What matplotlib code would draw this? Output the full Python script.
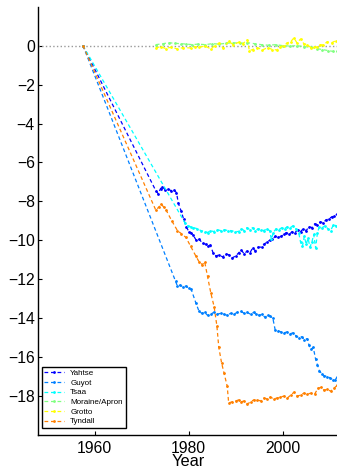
import matplotlib
matplotlib.use("Agg")
import matplotlib.pyplot as plt

plt.rcParams['font.family'] = ['Liberation Sans', 'DejaVu Sans']

# cumulative thickness change per glacier (m w.e.), start year 1957.5
yahtse_yr = [1957.5, 1973.0, 1973.5, 1974.0, 1974.4, 1975.0, 1975.6, 1976.2, 1976.8, 1977.4,
             1977.8, 1978.4, 1978.9, 1979.5, 1980.0, 1980.5, 1981.0, 1981.6, 1982.2, 1983.0,
             1983.6, 1984.0, 1984.6, 1985.2, 1985.8, 1986.5, 1987.2, 1988.0, 1988.6, 1989.3,
             1990.0, 1990.6, 1991.2, 1991.8, 1992.4, 1993.0, 1993.6, 1994.2, 1994.8, 1995.5,
             1996.0, 1996.6, 1997.2, 1997.8, 1998.4, 1999.0, 1999.6, 2000.2, 2000.8, 2001.4,
             2002.0, 2002.6, 2003.2, 2003.8, 2004.4, 2005.0, 2005.6, 2006.2, 2006.8, 2007.4,
             2008.0, 2008.6, 2009.2, 2009.8, 2010.4, 2011.0, 2011.6]
yahtse = [0, -7.45, -7.6, -7.35, -7.25, -7.4, -7.35, -7.45, -7.4, -7.55,
          -8.1, -8.5, -8.9, -9.3, -9.55, -9.6, -9.75, -10.0, -9.95, -10.15,
          -10.2, -10.3, -10.25, -10.65, -10.8, -10.75, -10.85, -10.7, -10.75, -10.9,
          -10.8, -10.65, -10.5, -10.7, -10.55, -10.65, -10.4, -10.55, -10.35, -10.35,
          -10.2, -10.1, -10.0, -9.95, -9.8, -9.85, -9.8, -9.7, -9.6, -9.7,
          -9.55, -9.6, -9.45, -9.55, -9.4, -9.5, -9.3, -9.35, -9.15, -9.2,
          -9.05, -9.1, -8.95, -8.9, -8.8, -8.75, -8.65]

guyot_yr = [1957.5, 1977.2, 1977.6, 1978.2, 1978.8, 1979.4, 1980.0, 1980.5, 1981.5, 1982.2,
            1982.8, 1983.4, 1984.0, 1984.7, 1985.3, 1986.0, 1986.8, 1987.5, 1988.2, 1988.9,
            1989.6, 1990.3, 1991.1, 1991.8, 1992.4, 1993.2, 1993.8, 1994.4, 1995.0, 1995.6,
            1996.2, 1996.8, 1997.4, 1997.9, 1998.4, 1999.0, 1999.6, 2000.3, 2001.0, 2001.6,
            2002.2, 2002.8, 2003.4, 2004.0, 2004.6, 2005.2, 2005.6, 2006.0, 2006.5, 2007.0,
            2007.4, 2007.8, 2008.3, 2008.8, 2009.4, 2010.0, 2010.6, 2011.1, 2011.6]
guyot = [0, -12.1, -12.35, -12.3, -12.4, -12.35, -12.45, -12.5, -13.2, -13.65,
         -13.75, -13.7, -13.85, -13.8, -13.7, -13.8, -13.75, -13.8, -13.85, -13.75,
         -13.8, -13.7, -13.65, -13.75, -13.7, -13.8, -13.7, -13.8, -13.85, -13.8,
         -13.95, -13.85, -13.9, -14.0, -14.6, -14.65, -14.7, -14.75, -14.7, -14.8,
         -14.75, -14.9, -15.0, -14.95, -15.1, -15.05, -15.4, -15.6, -15.5, -16.1,
         -16.4, -16.7, -16.85, -16.95, -17.0, -17.05, -17.15, -17.2, -17.0]

tsaa_yr = [1957.5, 1979.2, 1979.8, 1980.4, 1981.0, 1981.8, 1982.6, 1983.4, 1984.0, 1984.6,
           1985.3, 1986.0, 1986.8, 1987.6, 1988.3, 1989.0, 1989.8, 1990.6, 1991.2, 1991.8,
           1992.4, 1993.0, 1993.6, 1994.2, 1994.8, 1995.4, 1996.0, 1996.6, 1997.2, 1997.6,
           1998.0, 1998.6, 1999.2, 1999.8, 2000.4, 2001.0, 2001.6, 2002.2, 2002.8, 2003.4,
           2003.8, 2004.2, 2004.6, 2005.0, 2005.4, 2005.8, 2006.2, 2006.6, 2007.0, 2007.4,
           2007.8, 2008.4, 2009.0, 2009.6, 2010.2, 2010.8, 2011.4]
tsaa = [0, -9.1, -9.25, -9.3, -9.35, -9.4, -9.5, -9.55, -9.6, -9.5,
        -9.55, -9.45, -9.5, -9.45, -9.5, -9.5, -9.55, -9.55, -9.4, -9.5,
        -9.35, -9.45, -9.35, -9.5, -9.4, -9.45, -9.5, -9.4, -9.5, -9.95,
        -9.6, -9.4, -9.45, -9.35, -9.4, -9.3, -9.35, -9.25, -9.4, -9.6,
        -10.1, -10.3, -9.8, -10.2, -9.9, -10.35, -10.1, -9.7, -10.4, -9.6,
        -9.3, -9.35, -9.25, -9.4, -9.5, -9.2, -9.25]

moraine_yr = [1973.0, 1974.5, 1975.8, 1977.0, 1978.3, 1979.5, 1980.8, 1982.0, 1983.5, 1985.0,
              1986.5, 1988.0, 1989.5, 1991.0, 1992.5, 1994.0, 1995.5, 1997.0, 1998.5, 2000.0,
              2001.5, 2003.0, 2004.5, 2006.0, 2007.2, 2008.4, 2009.6, 2010.8, 2011.6]
moraine = [0.05, 0.1, 0.15, 0.12, 0.1, 0.08, 0.05, 0.08, 0.05, 0.1,
           0.08, 0.12, 0.15, 0.12, 0.15, 0.1, 0.05, 0.02, 0.05, 0.0,
           -0.02, 0.0, -0.05, -0.08, -0.15, -0.2, -0.25, -0.3, -0.3]

grotto_yr = [1973.0, 1974.0, 1975.1, 1976.2, 1977.6, 1978.8, 1980.4, 1981.3, 1982.2, 1983.5,
             1984.7, 1985.6, 1986.4, 1987.4, 1988.5, 1989.5, 1990.6, 1991.5, 1992.5, 1992.9,
             1993.6, 1994.6, 1995.7, 1996.8, 1997.8, 1998.8, 1999.5, 2000.3, 2001.0, 2001.7,
             2002.4, 2003.0, 2003.8, 2004.5, 2005.2, 2006.0, 2006.7, 2007.4, 2008.0, 2008.5,
             2009.5, 2010.4, 2011.3]
grotto = [-0.12, -0.05, -0.15, -0.08, -0.17, -0.1, -0.12, -0.05, -0.08, -0.02,
          -0.17, 0.0, 0.12, -0.14, 0.22, 0.05, 0.17, 0.1, 0.3, -0.26,
          -0.2, -0.1, -0.22, -0.1, -0.2, -0.22, -0.05, 0.0, 0.15, 0.2,
          0.4, 0.15, 0.34, 0.1, 0.05, -0.1, -0.05, -0.08, 0.05, 0.03,
          0.2, 0.15, 0.25]

tyndall_yr = [1957.5, 1973.0, 1973.6, 1974.2, 1974.7, 1975.2, 1976.4, 1977.6, 1978.4, 1979.4,
              1980.4, 1981.5, 1982.2, 1982.9, 1983.4, 1984.0, 1984.7, 1985.4, 1986.0, 1986.4,
              1987.0, 1987.5, 1988.2, 1988.5, 1989.2, 1990.0, 1990.6, 1991.1, 1991.8, 1992.5,
              1993.2, 1993.8, 1994.6, 1995.3, 1996.0, 1996.7, 1997.4, 1998.1, 1998.8, 1999.5,
              2000.3, 2001.0, 2001.7, 2002.4, 2003.1, 2003.8, 2004.5, 2005.2, 2006.0, 2006.8,
              2007.5, 2008.2, 2008.8, 2009.5, 2010.2, 2010.9, 2011.6]
tyndall = [0, -8.45, -8.3, -8.15, -8.3, -8.45, -9.0, -9.5, -9.65, -9.85,
           -10.3, -10.8, -11.1, -11.25, -11.1, -11.85, -12.7, -13.4, -14.4, -15.5,
           -16.3, -16.8, -17.5, -18.35, -18.3, -18.25, -18.2, -18.3, -18.25, -18.4,
           -18.3, -18.2, -18.2, -18.25, -18.1, -18.15, -18.05, -18.15, -18.1, -18.05,
           -18.0, -18.1, -17.95, -17.8, -18.0, -17.95, -17.85, -17.9, -17.85, -17.9,
           -17.6, -17.55, -17.7, -17.65, -17.75, -17.6, -17.45]

series = [
    ("Yahtse", yahtse_yr, yahtse, "#0000ff"),
    ("Guyot", guyot_yr, guyot, "#0080ff"),
    ("Tsaa", tsaa_yr, tsaa, "#00ffff"),
    ("Moraine/Apron", moraine_yr, moraine, "#80ff80"),
    ("Grotto", grotto_yr, grotto, "#ffff00"),
    ("Tyndall", tyndall_yr, tyndall, "#ff8000"),
]

fig = plt.figure(figsize=(3.37, 4.69), dpi=100)
ax = fig.add_axes([38.3 / 337, 34 / 469, 300.8 / 337, 428.3 / 469])

# zero reference line
ax.plot([1948, 2012], [0, 0], ':', color='#999999', lw=1.0)
for name, yr, val, col in series:
    ax.plot(yr, val, '.', ls=(0, (3, 2.2)), color=col, lw=0.9, ms=2.0, label=name)

ax.set_xlim(1948, 2012)
ax.set_ylim(-20, 2)
ax.set_xticks([1960, 1980, 2000])
ax.set_yticks(range(-18, 1, 2))
ax.tick_params(direction='in', length=3, width=0.8, labelsize=11.3)
ax.tick_params(axis='y', pad=2.5)
ax.tick_params(axis='x', pad=4)
ax.spines['top'].set_visible(False)
ax.spines['right'].set_visible(False)
ax.spines['left'].set_linewidth(1.0)
ax.spines['bottom'].set_linewidth(1.0)
ax.set_xlabel("Year", fontsize=11.8, labelpad=-1)

leg = ax.legend(loc='lower left', bbox_to_anchor=(0.011, 0.016), borderaxespad=0,
                fontsize=5.8, handlelength=2.4, handletextpad=0.8, labelspacing=0.25,
                borderpad=0.35, fancybox=False, framealpha=1)
leg.get_frame().set_edgecolor('black')
leg.get_frame().set_linewidth(1.0)

fig.savefig("out.png", dpi=100)
